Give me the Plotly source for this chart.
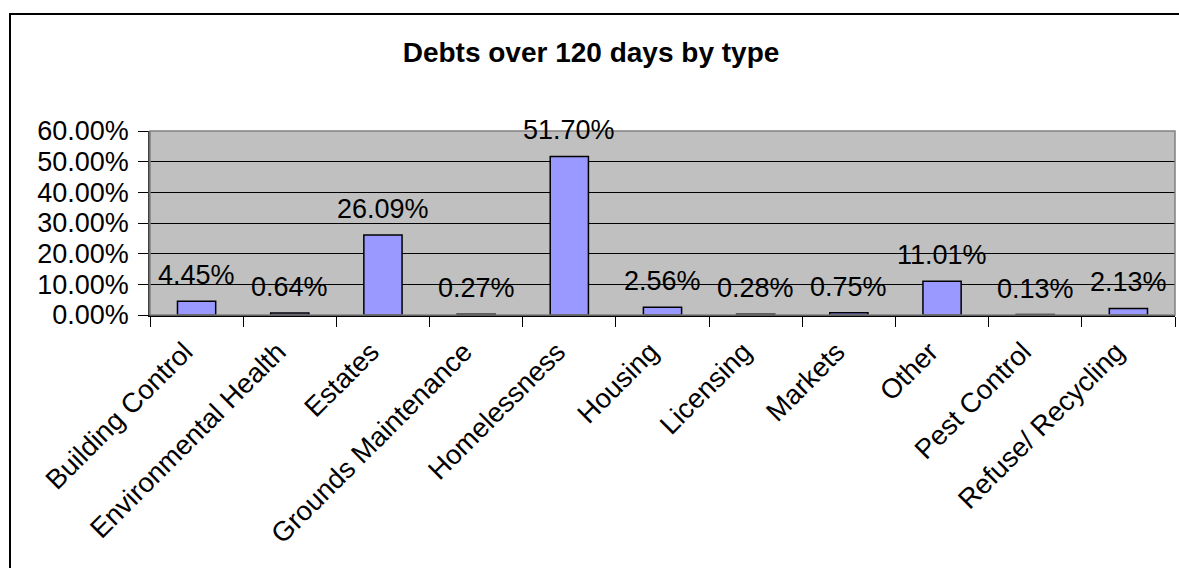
import plotly.graph_objects as go

categories = ["Building Control", "Environmental Health", "Estates", "Grounds Maintenance",
              "Homelessness", "Housing", "Licensing", "Markets", "Other", "Pest Control",
              "Refuse/ Recycling"]
values = [0.0445, 0.0064, 0.2609, 0.0027, 0.5170, 0.0256, 0.0028, 0.0075, 0.1101, 0.0013, 0.0213]
labels = ["4.45%", "0.64%", "26.09%", "0.27%", "51.70%", "2.56%", "0.28%", "0.75%", "11.01%", "0.13%", "2.13%"]
y_ticks = [0, 0.1, 0.2, 0.3, 0.4, 0.5, 0.6]
y_tick_text = ["0.00%", "10.00%", "20.00%", "30.00%", "40.00%", "50.00%", "60.00%"]

FONT = "Liberation Sans, Arial, sans-serif"
W, H = 1179, 568
L, R, T, B = 150, 4, 131, 253
pw, ph = W - L - R, H - T - B

fig = go.Figure()
fig.add_trace(go.Bar(
    x=categories, y=values,
    marker=dict(color="#9999FF", line=dict(color="black", width=1.5)),
    showlegend=False, hoverinfo="skip",
))

for c, v, t in zip(categories, values, labels):
    fig.add_annotation(x=c, y=v, text=t, showarrow=False, yanchor="middle",
                       yshift=26, font=dict(family=FONT, size=27, color="black"))

# outer chart border
fig.add_shape(type="rect", xref="paper", yref="paper",
              x0=(10 - L) / pw, x1=(W + 20 - L) / pw,
              y0=-(H + 20 - T - ph) / ph, y1=(T + ph - 14) / ph,
              line=dict(color="black", width=2), fillcolor="rgba(0,0,0,0)", layer="below")
# plot area border
fig.add_shape(type="rect", xref="paper", yref="paper", x0=0, x1=1, y0=0, y1=1,
              line=dict(color="#808080", width=1.5), fillcolor="rgba(0,0,0,0)", layer="above")

fig.update_layout(
    width=W, height=H,
    margin=dict(l=L, r=R, t=T, b=B, pad=0),
    paper_bgcolor="white", plot_bgcolor="#C0C0C0",
    bargap=0.59,
    title=dict(text="<b>Debts over 120 days by type</b>", x=(591) / W, xanchor="center",
               y=1 - 52 / H, yanchor="middle",
               font=dict(family=FONT, size=28, color="black")),
    font=dict(family=FONT, size=27, color="black"),
    xaxis=dict(tickangle=-45, ticks="outside", ticklen=10, tickcolor="black",
               tickson="boundaries", showline=True, linecolor="black", linewidth=1.5,
               showgrid=False, tickfont=dict(family=FONT, size=27.5, color="black"),
               ticklabelshift=-12, ticklabelstandoff=8,
               fixedrange=True),
    yaxis=dict(range=[0, 0.6], tickvals=y_ticks, ticktext=y_tick_text,
               ticks="outside", ticklen=10, tickcolor="black",
               showline=True, linecolor="#404040", linewidth=1.5,
               showgrid=True, gridcolor="black", gridwidth=1, zeroline=False,
               ticklabelstandoff=4,
               tickfont=dict(family=FONT, size=27, color="black"), fixedrange=True),
)

fig.write_html("out.html")
